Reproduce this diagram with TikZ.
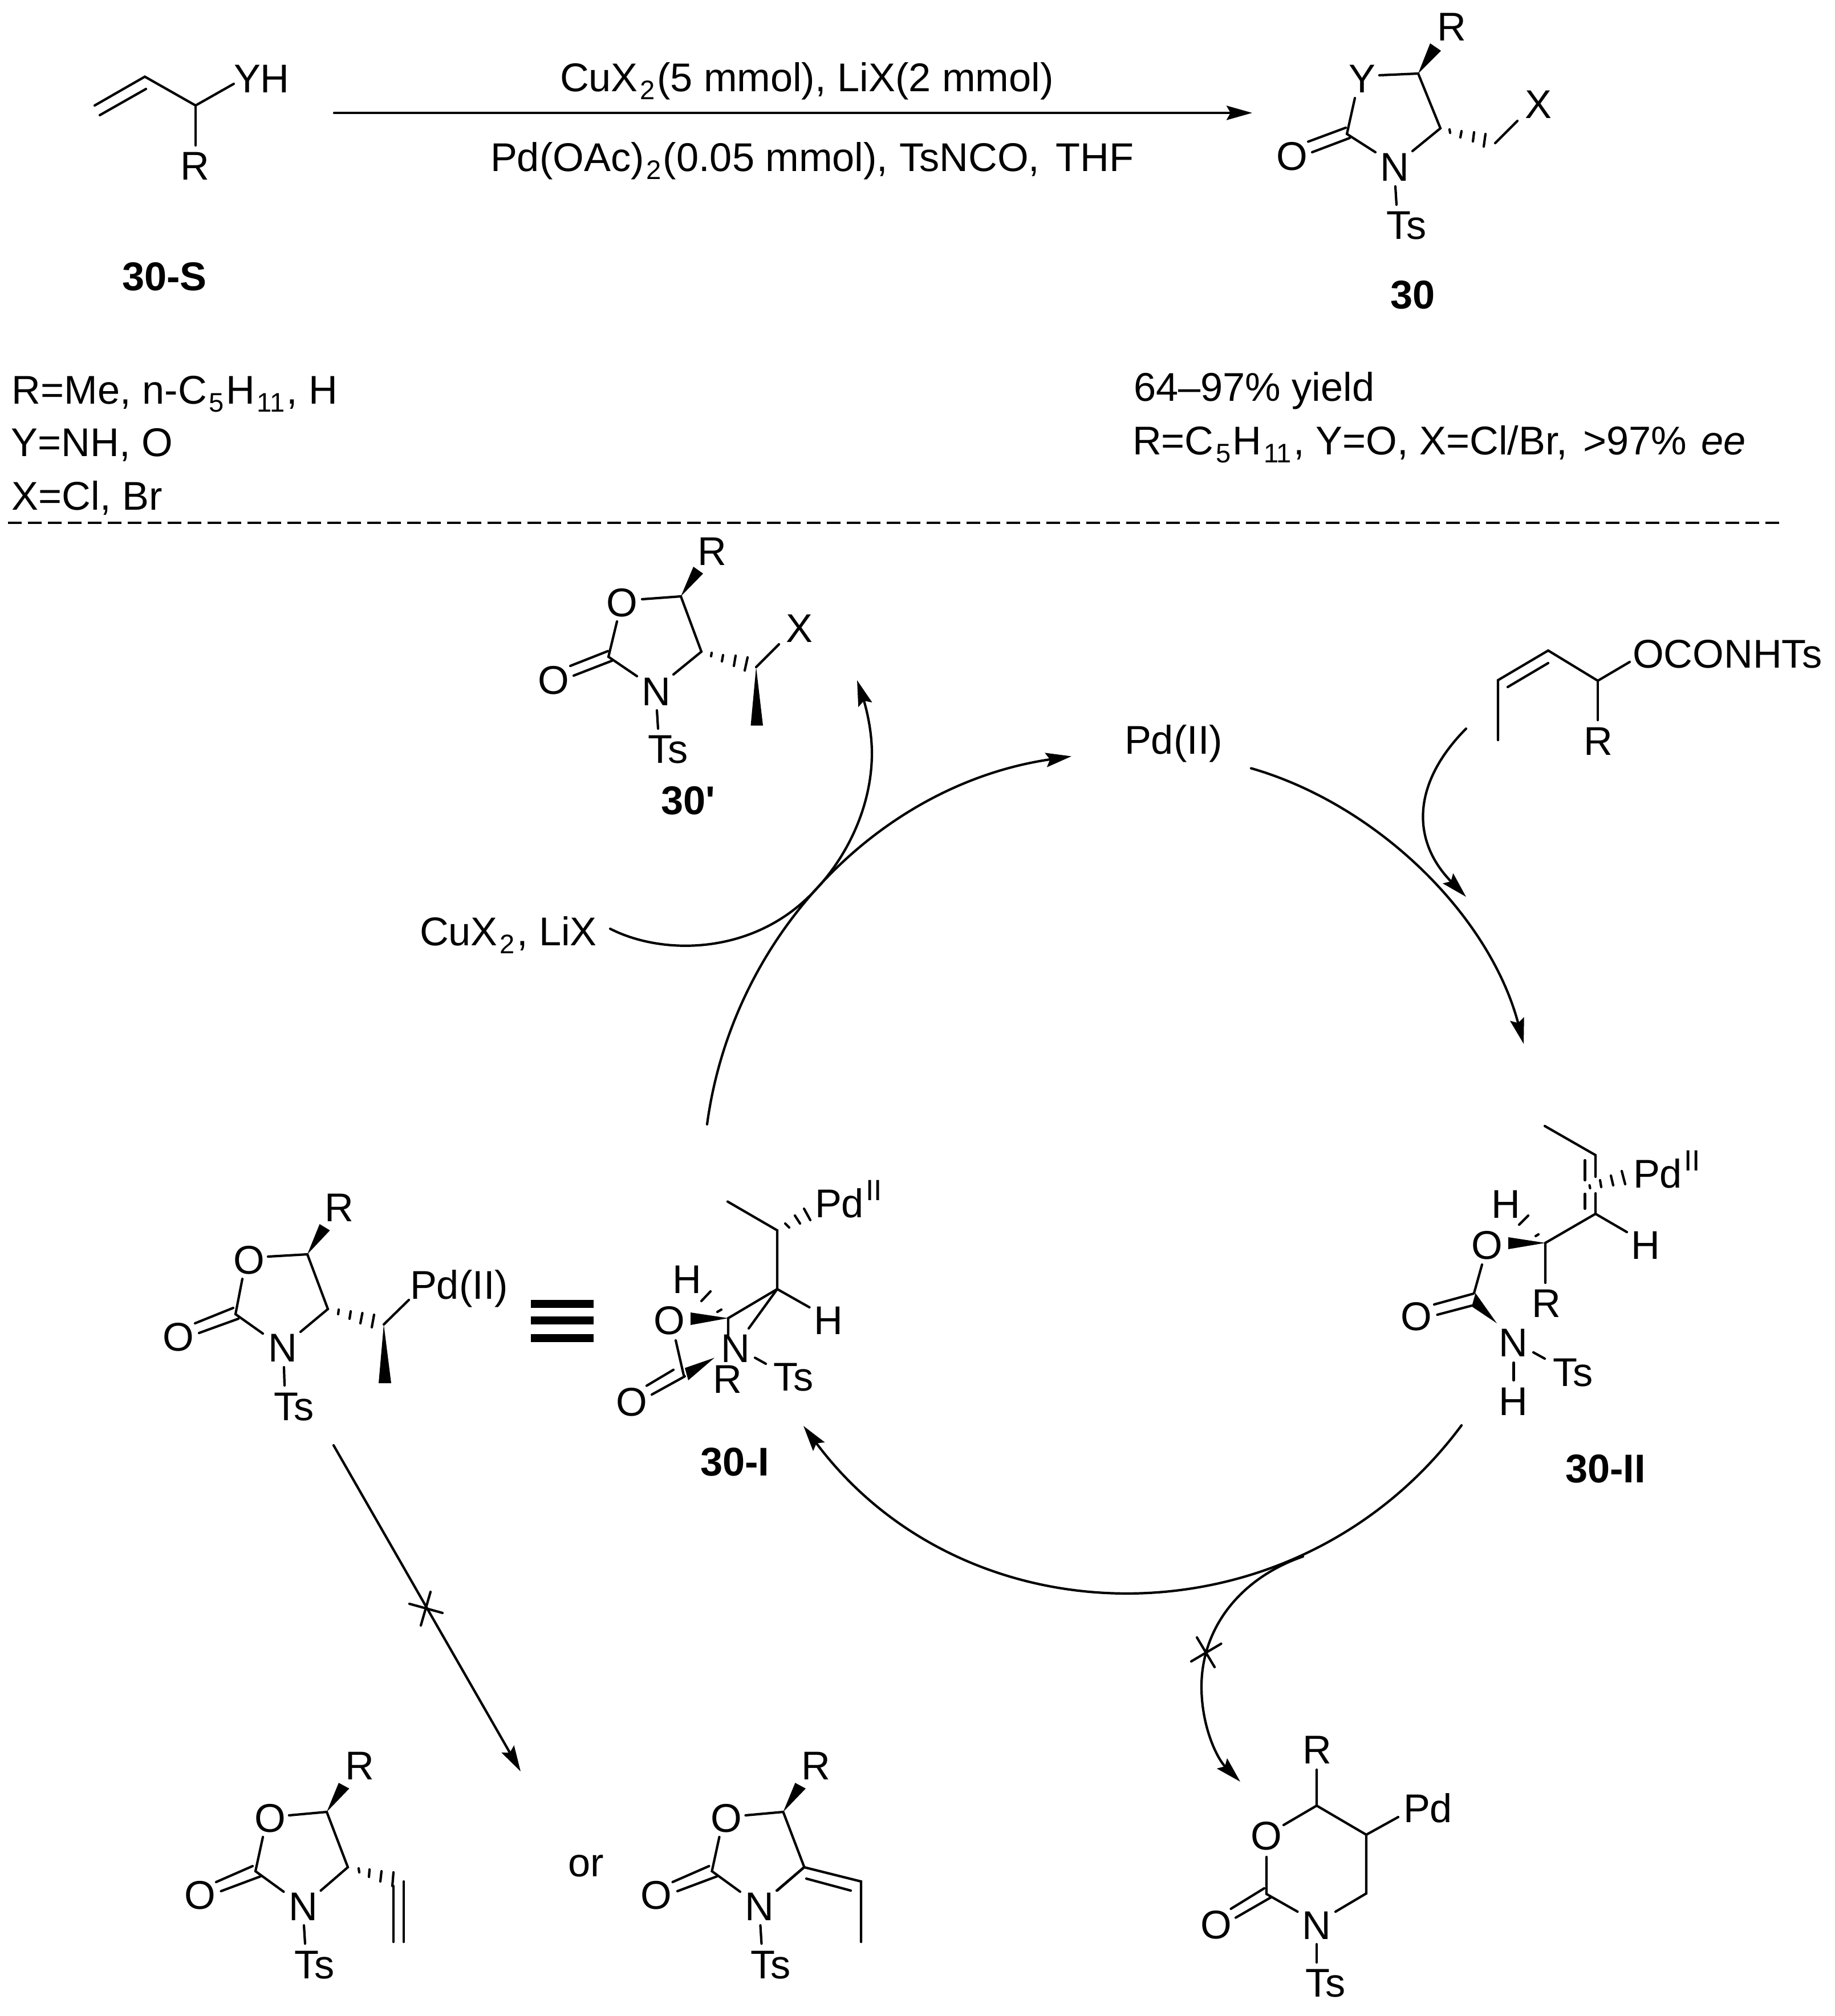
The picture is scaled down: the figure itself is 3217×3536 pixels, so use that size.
\documentclass[tikz,border=0pt]{standalone}
\usepackage{fontspec}
\usetikzlibrary{arrows.meta}
\newfontfamily\ar{Liberation Sans}
\newcommand{\dn}[1]{\kern.05em\raisebox{-.2em}{\fontsize{13.4}{15}\selectfont #1}\kern.05em}
\newcommand{\upII}{\kern.05em\raisebox{.42em}{\fontsize{14.6}{16}\selectfont II}}
\tikzset{
  lbl/.style={anchor=base west,inner sep=0pt,outer sep=0pt,font=\ar\fontsize{20}{23}\selectfont},
  blbl/.style={lbl,font=\ar\bfseries\fontsize{20}{23}\selectfont},
  bond/.style={line width=0.042cm,line cap=round,line join=miter},
  hashb/.style={line width=0.042cm,line cap=round},
  wedgeb/.style={fill=black,draw=none},
  arr/.style={line width=0.042cm,line cap=round,-{Stealth[length=0.45cm,width=0.25cm,inset=0.07cm]}},
  plainarc/.style={line width=0.042cm,line cap=round},
  sep/.style={line width=0.045cm,dash pattern=on 0.24cm off 0.11cm},
}
\newcommand{\lab}[4]{\node[lbl] (#1) at (#2,#3) {#4};}
\newcommand{\blab}[4]{\node[blbl] (#1) at (#2,#3) {#4};}
% shared oxazolidinone of the two bottom-left products
\newcommand{\botring}[1]{%
  \lab{#1R}{605}{3121}{R}
  \fill[wedgeb] (573,3178) -- (594,3127) -- (612.5,3137) -- cycle;
  \lab{#1O}{446}{3213}{O}
  \draw[bond] (507,3184) -- (573,3178) -- (610,3275) -- (562.5,3316);
  \draw[bond] (461,3222) -- (448,3282) -- (497.5,3318);
  \draw[bond] (379,3301) -- (443,3273);
  \draw[bond] (387.5,3317) -- (457,3291);
  \lab{#1Oc}{323.5}{3348}{O}
  \lab{#1N}{506.5}{3368}{N}
  \draw[bond] (533,3377) -- (535,3409);
  \lab{#1Ts}{516}{3470}{Ts}
}
\begin{document}
\begin{tikzpicture}[x=0.01cm,y=-0.01cm]
\path[use as bounding box] (0,0) rectangle (3217,3536);

% ---- top: substrate 30-S
\draw[bond] (166,185) -- (254,134.5) -- (343,185) -- (410,147);
\draw[bond] (175,202) -- (256,156);
\draw[bond] (343,185) -- (343,255);
\lab{sYH}{410}{162}{YH}
\lab{sR}{316}{315}{R}
\blab{sName}{214}{509}{30-S}

% ---- reaction arrow
\coordinate (rxnS) at (586,198);
\coordinate (rxnE) at (2196,198);
\draw[arr] (rxnS) -- (rxnE);
\lab{cond1}{982}{160}{CuX\dn{2}(5 mmol), LiX(2 mmol)}
\lab{cond2}{860}{300}{Pd(OAc)\dn{2}(0.05 mmol), TsNCO,\ \kern.12em THF}

% ---- product 30
\lab{pR}{2520}{71.5}{R}
\fill[wedgeb] (2487,129) -- (2508,76) -- (2527,89) -- cycle;
\lab{pY}{2365}{162}{Y}
\draw[bond] (2419,132) -- (2487,129) -- (2526,225) -- (2477,265);
\draw[bond] (2376,172) -- (2362,235) -- (2412,267);
\draw[bond] (2294,248.5) -- (2360,224);
\draw[bond] (2301,267) -- (2367,242);
\lab{pO}{2238}{298}{O}
\lab{pN}{2420}{317}{N}
\draw[bond] (2447,327) -- (2449,359);
\lab{pTs}{2431}{419}{Ts}
\draw[hashb] (2542,227) -- (2543,233) (2563,230) -- (2561,241) (2585,232) -- (2583,248) (2605,235) -- (2602,257);
\draw[bond] (2622,251) -- (2661,212);
\lab{pX}{2674}{207}{X}
\blab{pName}{2438}{541}{30}

% ---- conditions text
\lab{t1}{21}{708}{R=Me, n-C\dn{5}H\dn{11}, H}
\lab{t2}{20}{800}{Y=NH, O}
\lab{t3}{21}{894}{X=Cl, Br}
\lab{t4}{1988}{703}{64–97\% yield}
\lab{t5}{1986}{797}{R=C\dn{5}H\dn{11}, Y=O, X=Cl/Br,\kern.1em\ >97\%\kern.08em\ \textit{ee}}

\coordinate (sepL) at (14,917);
\coordinate (sepR) at (3120,917);
\draw[sep] (sepL) -- (sepR);

% ---- 30'
\lab{aR}{1223}{991}{R}
\fill[wedgeb] (1194,1046) -- (1216,994) -- (1233,1006) -- cycle;
\lab{aO}{1063}{1081}{O}
\draw[bond] (1126,1051) -- (1194,1046) -- (1230,1143) -- (1181,1183);
\draw[bond] (1082,1090) -- (1067,1152) -- (1117,1186);
\draw[bond] (1000,1168) -- (1066,1142);
\draw[bond] (1006,1185) -- (1073,1159);
\lab{aOc}{943}{1217}{O}
\lab{aN}{1125}{1237}{N}
\draw[bond] (1152,1246) -- (1154,1278);
\lab{aTs}{1136}{1338}{Ts}
\draw[hashb] (1248,1145) -- (1247,1151) (1268,1149) -- (1266,1160) (1290,1150) -- (1287,1168) (1311,1153) -- (1306,1176);
\draw[bond] (1326,1170) -- (1366,1130);
\lab{aX}{1378}{1126}{X}
\fill[wedgeb] (1326,1170) -- (1316.5,1272.5) -- (1338,1272.5) -- cycle;
\blab{aName}{1159}{1428}{30'}

% ---- Pd(II) and CuX2, LiX
\lab{pdii}{1972}{1322.6}{Pd(II)}
\lab{cux}{736}{1658}{CuX\dn{2}, LiX}

% ---- allyl carbamate
\draw[bond] (2627,1298) -- (2627,1193) -- (2715,1141) -- (2802,1194) -- (2858,1161);
\draw[bond] (2644,1205) -- (2715,1163);
\draw[bond] (2802,1194) -- (2802,1263);
\lab{cOC}{2863}{1171}{OCONHTs}
\lab{cR}{2777}{1324}{R}

% ---- 30-II
\draw[bond] (2709,1975) -- (2798,2026) -- (2798,2064);
\draw[bond] (2798,2093) -- (2798,2129) -- (2853,2161);
\draw[bond] (2798,2129) -- (2710,2180) -- (2710,2250);
\draw[bond] (2779.5,2035) -- (2779.5,2070);
\draw[bond] (2779.5,2094) -- (2779.5,2120);
\draw[hashb] (2787.5,2079) -- (2788.5,2084) (2806,2070) -- (2808,2082) (2825,2062) -- (2829,2079) (2844,2054) -- (2850,2077);
\lab{iiPd}{2864}{2083}{Pd\upII}
\lab{iiH}{2860}{2208}{H}
\lab{iiR}{2686}{2310}{R}
\fill[wedgeb] (2710,2180) -- (2645,2170) -- (2645,2191) -- cycle;
\lab{iiHb}{2615}{2136}{H}
\draw[hashb] (2664,2148) -- (2680,2132);
\draw[hashb] (2693,2168) -- (2698,2165);
\lab{iiO}{2580}{2208}{O}
\draw[bond] (2599,2218) -- (2585,2268);
\draw[bond] (2515,2288) -- (2584,2269);
\draw[bond] (2520.5,2306) -- (2581,2290);
\lab{iiOc}{2456}{2333}{O}
\fill[wedgeb] (2625,2321) -- (2587.5,2268) -- (2581,2291.5) -- cycle;
\lab{iiN}{2628}{2379}{N}
\draw[bond] (2654.5,2390) -- (2654.5,2421);
\lab{iiHn}{2628}{2482}{H}
\draw[bond] (2689,2372) -- (2709,2383);
\lab{iiTs}{2723}{2431}{Ts}
\blab{iiName}{2745}{2600}{30-II}

% ---- 30-I
\draw[bond] (1276,2107.5) -- (1363,2158) -- (1363,2261) -- (1419.5,2293);
\draw[bond] (1363,2261) -- (1277,2312) -- (1277,2341);
\draw[bond] (1363,2261) -- (1313,2330);
\draw[hashb] (1377,2146) -- (1384,2153) (1394,2132) -- (1403,2146) (1410,2120) -- (1421,2140);
\lab{iPd}{1429}{2135}{Pd\upII}
\lab{iH}{1427}{2340}{H}
\lab{iN}{1264}{2389}{N}
\lab{iR}{1250}{2443.5}{R}
\fill[wedgeb] (1277,2312) -- (1211,2302) -- (1211,2324) -- cycle;
\lab{iHb}{1179}{2268}{H}
\draw[hashb] (1230,2282) -- (1246,2265);
\draw[hashb] (1258,2301) -- (1265,2297);
\lab{iO}{1146.6}{2340}{O}
\draw[bond] (1185,2351) -- (1199,2412);
\draw[bond] (1134,2430.5) -- (1181,2402.5);
\draw[bond] (1143,2446) -- (1201,2414);
\lab{iOc}{1080}{2483}{O}
\fill[wedgeb] (1253,2381.4) -- (1201,2399.4) -- (1207,2421) -- cycle;
\draw[bond] (1324,2381.4) -- (1343,2392);
\lab{iTs}{1356}{2439}{Ts}
\blab{iName}{1228}{2588}{30-I}

% ---- equivalence bars
\fill (931,2280) rectangle (1041,2294);
\fill (931,2309) rectangle (1041,2323);
\fill (931,2340) rectangle (1041,2354);

% ---- left Pd(II) drawing
\lab{lR}{569}{2142}{R}
\fill[wedgeb] (539,2200) -- (560.5,2147) -- (578.6,2158) -- cycle;
\lab{lO}{409}{2234}{O}
\draw[bond] (470,2204) -- (539,2200) -- (575,2296) -- (527,2336);
\draw[bond] (425,2243) -- (413,2305) -- (461,2339);
\draw[bond] (342,2321) -- (409,2294);
\draw[bond] (349,2338) -- (418,2313);
\lab{lOc}{285}{2369}{O}
\lab{lN}{470}{2388}{N}
\draw[bond] (498,2398) -- (499,2430);
\lab{lTs}{480}{2491}{Ts}
\draw[hashb] (594,2297) -- (593,2305) (615,2300) -- (613,2313) (635.5,2303) -- (632,2321) (656,2306) -- (652,2328);
\draw[bond] (673,2323) -- (717,2280);
\fill[wedgeb] (673,2323) -- (664,2426) -- (686,2426) -- cycle;
\lab{lPd}{719}{2278}{Pd(II)}

% ---- bottom products
\botring{b}
\draw[hashb] (629,3277) -- (630,3284) (648,3279) -- (647,3292) (669,3282) -- (667,3300) (690,3284) -- (688,3308);
\draw[bond] (690,3308) -- (690,3406);
\draw[bond] (708,3300) -- (708,3406);
\lab{orw}{996}{3291}{or}
\begin{scope}[xshift=8.00cm]
\botring{c}
\end{scope}
\draw[bond] (1362,3316) -- (1410,3275) -- (1510,3300) -- (1510,3406);
\draw[bond] (1414,3295) -- (1492,3316);

% ---- six-membered ring product
\lab{dR}{2284}{3093.5}{R}
\draw[bond] (2309,3104) -- (2309,3167) -- (2396,3218) -- (2452,3187);
\draw[bond] (2251,3201) -- (2309,3167);
\lab{dO}{2193}{3244}{O}
\lab{dPd}{2461}{3196}{Pd}
\draw[bond] (2396,3218) -- (2396,3321) -- (2342,3353);
\lab{dN}{2283}{3401}{N}
\draw[bond] (2221,3257) -- (2221,3322) -- (2275.5,3353);
\draw[bond] (2158.5,3348) -- (2217,3312);
\draw[bond] (2167,3363.5) -- (2228.6,3328);
\lab{dOc}{2105}{3400}{O}
\draw[bond] (2309,3410) -- (2309,3442);
\lab{dTs}{2289}{3502}{Ts}

% ---- catalytic cycle arrows
\coordinate (arcLs) at (1240,1972);
\coordinate (arcLe) at (1879,1326.5);
\draw[arr] (arcLs) .. controls (1285,1638) and (1545,1375) .. (arcLe);

\coordinate (arcRs) at (2194,1347.5);
\coordinate (arcRe) at (2672,1831);
\draw[arr] (arcRs) .. controls (2415,1411) and (2612,1605) .. (arcRe);

\coordinate (arcBs) at (2563,2500);
\coordinate (arcBe) at (1409,2501);
\draw[arr] (arcBs) .. controls (2275,2888) and (1698,2888) .. (arcBe);

\coordinate (cuS) at (1070,1629);
\coordinate (cuM) at (1414.5,1576.5);
\coordinate (cuN) at (1529,1321);
\coordinate (cuE) at (1503,1193);
\draw[arr] (cuS) .. controls (1160,1675) and (1310,1675) .. (cuM)
  .. controls (1480,1515) and (1529,1420) .. (cuN)
  .. controls (1529,1275) and (1516,1232) .. (cuE);

\coordinate (inS) at (2571,1278);
\coordinate (inE) at (2571,1573);
\draw[arr] (inS) .. controls (2475,1375) and (2475,1475) .. (inE);

\coordinate (brS) at (2285,2730);
\coordinate (brM) at (2107,2958);
\coordinate (brE) at (2175,3125);
\draw[arr] (brS) .. controls (2170,2770) and (2107,2860) .. (brM)
  .. controls (2107,3030) and (2135,3085) .. (brE);
\draw[plainarc] (2099,2872) -- (2130,2924);
\draw[plainarc] (2089,2914) -- (2141.5,2883);

\coordinate (xS) at (585,2535);
\coordinate (xE) at (913,3107);
\draw[arr] (xS) -- (xE);
\draw[plainarc] (718,2813) -- (776,2829);
\draw[plainarc] (755,2792) -- (738,2851);
\end{tikzpicture}
\end{document}
